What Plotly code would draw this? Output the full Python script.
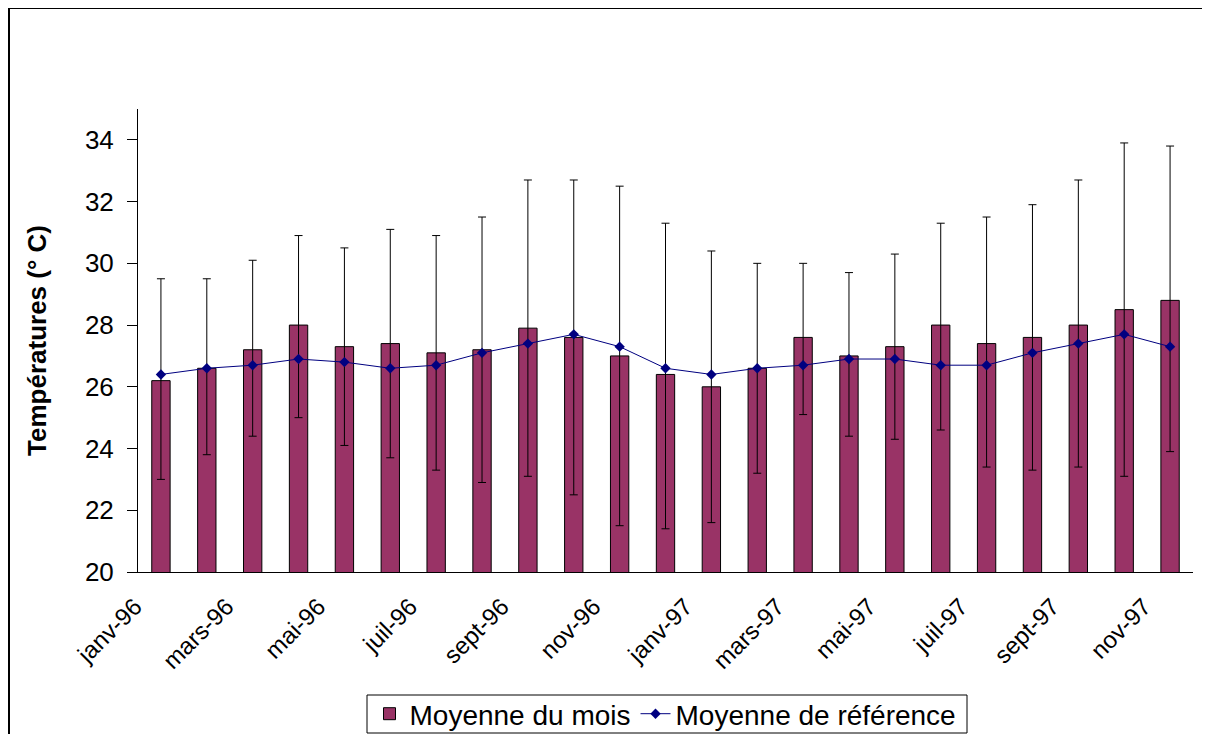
import numpy as np
import plotly.graph_objects as go

months = ["janv-96", "févr-96", "mars-96", "avr-96", "mai-96", "juin-96", "juil-96",
          "août-96", "sept-96", "oct-96", "nov-96", "déc-96", "janv-97", "févr-97",
          "mars-97", "avr-97", "mai-97", "juin-97", "juil-97", "août-97", "sept-97",
          "oct-97", "nov-97"]
moyenne_mois = [26.2, 26.6, 27.2, 28.0, 27.3, 27.4, 27.1, 27.2, 27.9, 27.6, 27.0, 26.4,
                26.0, 26.6, 27.6, 27.0, 27.3, 28.0, 27.4, 27.6, 28.0, 28.5, 28.8]
moyenne_ref = [26.4, 26.6, 26.7, 26.9, 26.8, 26.6, 26.7, 27.1, 27.4, 27.7, 27.3, 26.6,
               26.4, 26.6, 26.7, 26.9, 26.9, 26.7, 26.7, 27.1, 27.4, 27.7, 27.3]
temp_max = [29.5, 29.5, 30.1, 30.9, 30.5, 31.1, 30.9, 31.5, 32.7, 32.7, 32.5, 31.3,
            30.4, 30.0, 30.0, 29.7, 30.3, 31.3, 31.5, 31.9, 32.7, 33.9, 33.8]
temp_min = [23.0, 23.8, 24.4, 25.0, 24.1, 23.7, 23.3, 22.9, 23.1, 22.5, 21.5, 21.4,
            21.6, 23.2, 25.1, 24.4, 24.3, 24.6, 23.4, 23.3, 23.4, 23.1, 23.9]
tick_labels = months[::2]

err_plus = [h - v for h, v in zip(temp_max, moyenne_mois)]
err_minus = [v - l for l, v in zip(temp_min, moyenne_mois)]

# page body has an 8px margin: figure sized so the page fits the 1210x742 window
OFF = 8
W, H = 1202, 726
L, R, T, B = 130, 17, 101, 162
pw, ph = W - L - R, H - T - B


def px_x(x):  # window pixel -> paper x
    return (x - OFF - L) / pw


def px_y(y):  # window pixel -> paper y
    return (H - B - (y - OFF)) / ph


FONT = "Liberation Sans, Arial, sans-serif"

fig = go.Figure()
fig.add_trace(go.Bar(
    x=months, y=moyenne_mois, name="Moyenne du mois",
    marker=dict(color="#993366", line=dict(color="black", width=1)),
    width=0.4,
    error_y=dict(type="data", symmetric=False, array=err_plus, arrayminus=err_minus,
                 color="black", thickness=1, width=4),
))
fig.add_trace(go.Scatter(
    x=months, y=moyenne_ref, name="Moyenne de référence", mode="lines+markers",
    line=dict(color="#000080", width=1),
    marker=dict(symbol="diamond", size=8, color="#000080"),
))

n = len(months)
bounds = list(np.arange(-0.5, n, 1.0))

fig.update_layout(
    width=W, height=H,
    margin=dict(l=L, r=R, t=T, b=B, autoexpand=False),
    paper_bgcolor="white", plot_bgcolor="white",
    font=dict(family=FONT, size=24, color="black"),
    showlegend=True,
    legend=dict(orientation="h", x=0.5, xanchor="center", y=px_y(714), yanchor="middle",
                borderwidth=0, bgcolor="rgba(0,0,0,0)", font=dict(size=28),
                itemwidth=30, tracegroupgap=0),
    xaxis=dict(type="category", categoryorder="array", categoryarray=months,
               range=[-0.5, n - 0.5], tickmode="array", tickvals=tick_labels,
               ticktext=tick_labels, ticks="", tickangle=-45, showline=True,
               linecolor="black", linewidth=1, showgrid=False, zeroline=False,
               automargin=False,
               tickfont=dict(size=24), ticklabelstandoff=10, ticklabelshift=-26),
    xaxis2=dict(overlaying="x", anchor="y", type="linear", range=[-0.5, n - 0.5],
                tickmode="array", tickvals=bounds, ticks="outside", ticklen=8,
                tickcolor="black", showticklabels=False, showline=False,
                showgrid=False, zeroline=False, automargin=False),
    xaxis3=dict(overlaying="x", anchor="y", type="linear", range=[-0.5, n - 0.5],
                tickmode="array", tickvals=bounds, ticks="inside", ticklen=8,
                tickcolor="black", showticklabels=False, showline=False,
                showgrid=False, zeroline=False, automargin=False),
    yaxis=dict(range=[20, 35], tick0=20, dtick=2, ticks="outside", ticklen=10,
               tickcolor="black", showline=True, linecolor="black", linewidth=1,
               showgrid=False, zeroline=False, tickfont=dict(size=26),
               ticklabelstandoff=8, automargin=False,
               title=dict(text="<b>Températures (° C)</b>", font=dict(size=26), standoff=30)),
    yaxis2=dict(overlaying="y", anchor="x", side="left", range=[20, 35], tick0=20, dtick=2,
                ticks="inside", ticklen=10, tickcolor="black", showticklabels=False,
                showline=False, showgrid=False, zeroline=False, automargin=False),
)

# legend frame
fig.add_shape(type="rect", xref="paper", yref="paper",
              x0=px_x(367), x1=px_x(967), y0=px_y(733), y1=px_y(695),
              line=dict(color="black", width=1), fillcolor="rgba(0,0,0,0)")

# chart-area border (left and top edges visible in the reference)
x_left = px_x(9)
y_top = (H - B) / ph
fig.add_shape(type="line", xref="paper", yref="paper", x0=x_left, x1=x_left,
              y0=y_top, y1=-B / ph - 0.05, line=dict(color="black", width=2))
fig.add_shape(type="line", xref="paper", yref="paper", x0=x_left, x1=(W - L) / pw + 0.05,
              y0=y_top, y1=y_top, line=dict(color="black", width=2))

fig.write_html("out.html")
